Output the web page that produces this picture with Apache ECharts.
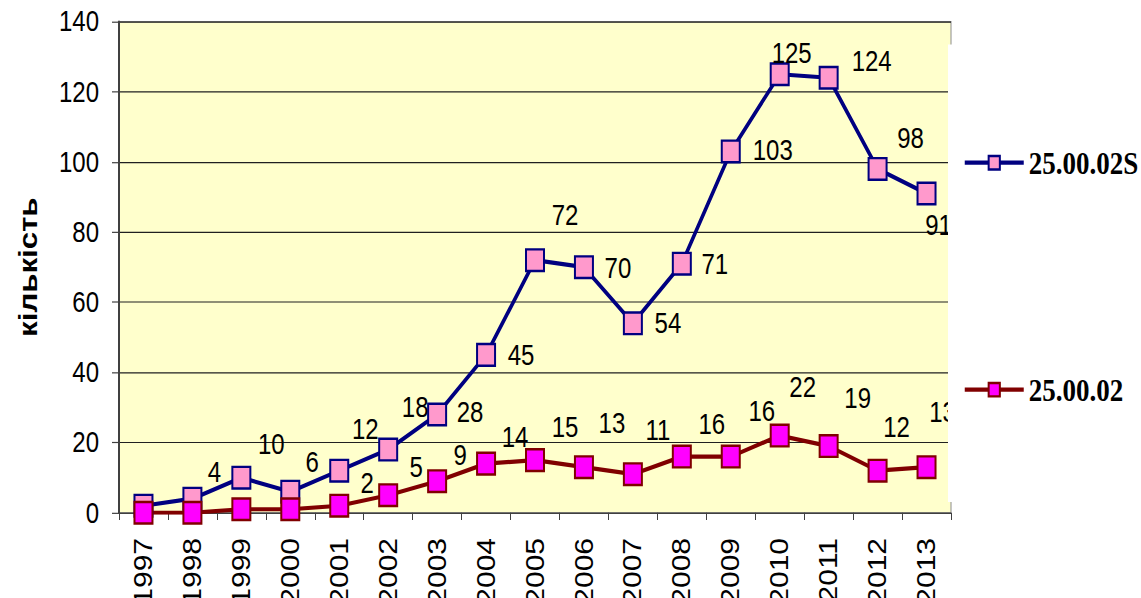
<!DOCTYPE html>
<html>
<head>
<meta charset="utf-8">
<script src="https://cdn.jsdelivr.net/npm/echarts@6/dist/echarts.min.js"></script>
<style>
  html, body { margin: 0; padding: 0; background: #fff; }
  body { width: 1141px; height: 598px; }
  /* the source picture is stretched vertically, so draw short and scale up */
  #chart { width: 1141px; height: 498px; transform: scaleY(1.2008); transform-origin: 0 0; }
</style>
</head>
<body>
<div id="chart"></div>
<script>
  const years = ['1997', '1998', '1999', '2000', '2001', '2002', '2003', '2004', '2005',
    '2006', '2007', '2008', '2009', '2010', '2011', '2012', '2013'];
  const seriesS = [2, 4, 10, 6, 12, 18, 28, 45, 72, 70, 54, 71, 103, 125, 124, 98, 91];
  const seriesD = [0, 0, 1, 1, 2, 5, 9, 14, 15, 13, 11, 16, 16, 22, 19, 12, 13];
  const yTicks = [0, 20, 40, 60, 80, 100, 120, 140];

  const STRETCH = 1.2008;

  // label placement (screen px from the marker centre), null = no label
  const shiftS = [null, [22, -26], [30, -33], [22, -29], [26, -41], [27, -42], [33, -2], [35, 0],
    [30, -45], [34, 1], [35, 0], [33, 1], [42, -1], [12, -21], [43, -17], [33, -31], [12, 32]];
  const shiftD = [null, null, null, null, [28, -23], [28, -28], [23, -26], [29, -26], [30, -33],
    [28, -44], [25, -44], [30, -32], [31, -45], [23, -48], [29, -48], [19, -43], [16, -55]];

  const numFont = { fontFamily: 'Arial, "Liberation Sans", sans-serif', fontSize: 24, color: '#000' };

  function withLabels(values, shifts) {
    return values.map((v, i) => ({
      value: v,
      label: shifts[i]
        ? { show: true, position: 'inside', offset: [shifts[i][0], shifts[i][1] / STRETCH] }
        : { show: false }
    }));
  }

  const chart = echarts.init(document.getElementById('chart'), null, { renderer: 'svg' });

  chart.setOption({
    animation: false,
    grid: {
      left: 119,
      right: 190,
      top: 18,
      bottom: 71,
      outerBoundsMode: 'none',
      show: true,
      backgroundColor: '#FFFFCC',
      borderColor: '#8c8c8c',
      borderWidth: 1
    },
    legend: {
      orient: 'vertical',
      left: 948,
      top: 37,
      backgroundColor: '#fff',
      padding: [85, 10, 80, 15],
      itemGap: 162,
      itemWidth: 59,
      itemHeight: 14,
      lineStyle: { width: 3.5 },
      textStyle: {
        fontFamily: '"Liberation Serif", "Times New Roman", serif',
        fontWeight: 'bold',
        fontSize: 27,
        color: '#000',
        lineHeight: 25
      },
      data: ['25.00.02S', '25.00.02']
    },
    xAxis: {
      type: 'category',
      data: years,
      boundaryGap: true,
      axisLine: { lineStyle: { color: '#404040', width: 1 } },
      axisTick: { show: true, length: 6, lineStyle: { color: '#404040' } },
      axisLabel: {
        rotate: 90,
        margin: 21,
        fontFamily: 'Arial, "Liberation Sans", sans-serif',
        fontSize: 25,
        color: '#000'
      },
      splitLine: { show: false }
    },
    yAxis: {
      type: 'value',
      min: 0,
      max: 140,
      interval: 20,
      name: 'кількість',
      nameLocation: 'middle',
      nameRotate: 90,
      nameGap: 78,
      nameTextStyle: {
        fontFamily: 'Arial, "Liberation Sans", sans-serif',
        fontWeight: 'bold',
        fontSize: 26,
        color: '#000'
      },
      axisLine: { show: true, lineStyle: { color: '#404040', width: 2 } },
      axisTick: { show: true, length: 7, lineStyle: { color: '#404040' } },
      axisLabel: Object.assign({
        margin: 20,
        formatter: v => (yTicks.includes(v) ? String(v) : '')
      }, numFont),
      splitLine: { lineStyle: { color: '#202020', width: 1 } }
    },
    series: [
      {
        name: '25.00.02S',
        type: 'line',
        data: withLabels(seriesS, shiftS),
        symbol: 'rect',
        symbolSize: 18,
        lineStyle: { color: '#000080', width: 3.5 },
        itemStyle: { color: '#FF99CC', borderColor: '#000080', borderWidth: 2 },
        label: Object.assign({ align: 'center', verticalAlign: 'middle' }, numFont)
      },
      {
        name: '25.00.02',
        type: 'line',
        data: withLabels(seriesD, shiftD),
        symbol: 'rect',
        symbolSize: 18,
        lineStyle: { color: '#800000', width: 3.5 },
        itemStyle: { color: '#FF00FF', borderColor: '#800000', borderWidth: 2 },
        label: Object.assign({ align: 'center', verticalAlign: 'middle' }, numFont)
      }
    ]
  });

  window.addEventListener('resize', () => chart.resize());
</script>
</body>
</html>
